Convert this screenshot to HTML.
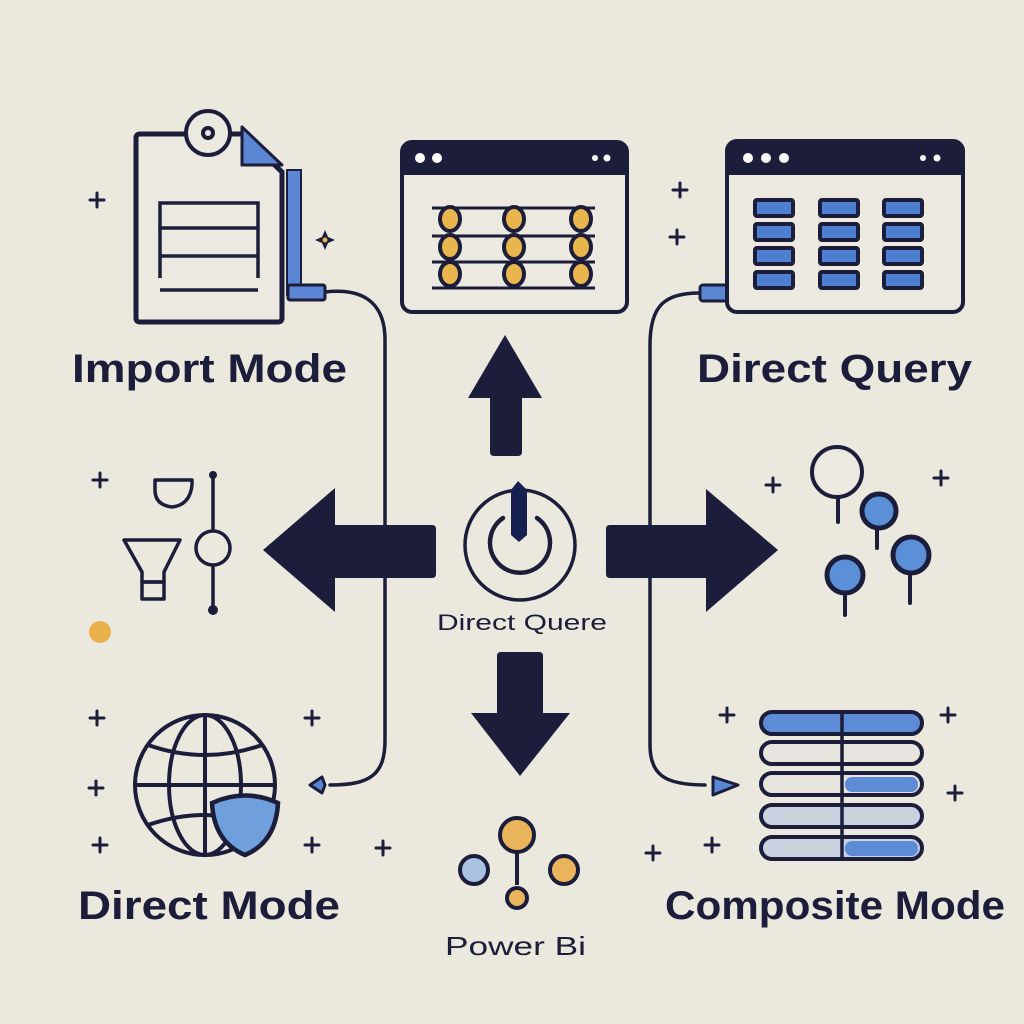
<!DOCTYPE html>
<html><head><style>
html,body{margin:0;padding:0;background:#ebe8de;}
svg{display:block}
text{font-family:"Liberation Sans",sans-serif;fill:#1c1d3a}
</style></head><body>
<svg width="1024" height="1024" viewBox="0 0 1024 1024" xmlns="http://www.w3.org/2000/svg">
<rect width="1024" height="1024" fill="#ebe8de"/>
<defs>
<g id="p"><path d="M-7 0H7M0 -7V7" stroke="#1c1d3a" stroke-width="3" stroke-linecap="round"/></g>
</defs>
<g fill="none" stroke="#1c1d3a" stroke-width="3.5" stroke-linecap="round">
<path d="M325 292 C360 288 385 300 385 340 V740 C385 775 370 785 330 785"/>
<path d="M700 293 C665 293 650 305 650 345 V745 C650 775 665 785 705 785"/>
</g>
<rect x="287" y="170" width="14" height="125" fill="#5b86d4" stroke="#1c1d3a" stroke-width="2"/>
<rect x="288" y="285" width="37" height="15" rx="2" fill="#5b86d4" stroke="#1c1d3a" stroke-width="3"/>
<path d="M140 134 H242 L282 172 V318 Q282 322 278 322 H140 Q136 322 136 318 V138 Q136 134 140 134Z" fill="#ece9e0" stroke="#1c1d3a" stroke-width="5"/>
<path d="M242 127 V165 H282 Z" fill="#5b86d4" stroke="#1c1d3a" stroke-width="3" stroke-linejoin="round"/>
<circle cx="208" cy="133" r="22" fill="#ece9e0" stroke="#1c1d3a" stroke-width="4"/>
<circle cx="208" cy="133" r="7" fill="#1c1d3a"/>
<circle cx="208" cy="133" r="3" fill="#ece9e0"/>
<g stroke="#1c1d3a" stroke-width="3.5"><rect x="160" y="203" width="98" height="25" fill="none"/><line x1="160" y1="256" x2="258" y2="256"/><line x1="160" y1="290" x2="258" y2="290"/><line x1="160" y1="228" x2="160" y2="278"/><line x1="258" y1="228" x2="258" y2="278"/></g>
<text x="72" y="382" font-size="40" font-weight="bold" textLength="275" lengthAdjust="spacingAndGlyphs">Import Mode</text>
<rect x="402" y="142" width="225" height="170" rx="10" fill="#ece9e0" stroke="#1c1d3a" stroke-width="4"/>
<path d="M402 175 V152 Q402 142 412 142 H617 Q627 142 627 152 V175Z" fill="#1c1d3a"/>
<circle cx="420" cy="158" r="5" fill="#fff"/><circle cx="437" cy="158" r="5" fill="#fff"/>
<circle cx="595" cy="158" r="3" fill="#fff"/><circle cx="607" cy="158" r="3.5" fill="#fff"/>
<g stroke="#1c1d3a" stroke-width="3"><line x1="432" y1="208" x2="595" y2="208"/><line x1="432" y1="236" x2="595" y2="236"/><line x1="432" y1="262" x2="595" y2="262"/><line x1="432" y1="288" x2="595" y2="288"/></g>
<g fill="#e9b54d" stroke="#1c1d3a" stroke-width="4">
<ellipse cx="450" cy="219" rx="10" ry="12"/><ellipse cx="514" cy="219" rx="10" ry="12"/><ellipse cx="581" cy="219" rx="10" ry="12"/>
<ellipse cx="450" cy="247" rx="10" ry="12"/><ellipse cx="514" cy="247" rx="10" ry="12"/><ellipse cx="581" cy="247" rx="10" ry="12"/>
<ellipse cx="450" cy="274" rx="10" ry="12"/><ellipse cx="514" cy="274" rx="10" ry="12"/><ellipse cx="581" cy="274" rx="10" ry="12"/>
</g>
<rect x="700" y="285" width="28" height="16" rx="3" fill="#5b86d4" stroke="#1c1d3a" stroke-width="3"/>
<rect x="727" y="141" width="236" height="171" rx="10" fill="#ece9e0" stroke="#1c1d3a" stroke-width="4"/>
<path d="M727 175 V151 Q727 141 737 141 H953 Q963 141 963 151 V175Z" fill="#1c1d3a"/>
<circle cx="748" cy="158" r="5" fill="#fff"/><circle cx="766" cy="158" r="5" fill="#fff"/><circle cx="784" cy="158" r="5" fill="#fff"/>
<circle cx="923" cy="158" r="3" fill="#fff"/><circle cx="937" cy="158" r="3.5" fill="#fff"/>
<g fill="#4f7fd0" stroke="#1c1d3a" stroke-width="4">
<rect x="755" y="200" width="38" height="16" rx="2"/><rect x="820" y="200" width="38" height="16" rx="2"/><rect x="884" y="200" width="38" height="16" rx="2"/>
<rect x="755" y="224" width="38" height="16" rx="2"/><rect x="820" y="224" width="38" height="16" rx="2"/><rect x="884" y="224" width="38" height="16" rx="2"/>
<rect x="755" y="248" width="38" height="16" rx="2"/><rect x="820" y="248" width="38" height="16" rx="2"/><rect x="884" y="248" width="38" height="16" rx="2"/>
<rect x="755" y="272" width="38" height="16" rx="2"/><rect x="820" y="272" width="38" height="16" rx="2"/><rect x="884" y="272" width="38" height="16" rx="2"/>
</g>
<text x="697" y="382" font-size="40" font-weight="bold" textLength="275" lengthAdjust="spacingAndGlyphs">Direct Query</text>
<g fill="#1c1d3a">
<path d="M505 335 L542 398 H522 V452 Q522 456 518 456 H494 Q490 456 490 452 V398 H468 Z"/>
<path d="M263 550 L335 488 V525 H432 Q436 525 436 529 V574 Q436 578 432 578 H335 V612 Z"/>
<path d="M778 550 L706 489 V525 H610 Q606 525 606 529 V574 Q606 578 610 578 H706 V612 Z"/>
<path d="M520 776 L570 713 H543 V656 Q543 652 539 652 H501 Q497 652 497 656 V713 H471 Z"/>
</g>
<circle cx="520" cy="545" r="55" fill="none" stroke="#1c1d3a" stroke-width="3.5"/>
<path d="M503 518 A30 30 0 1 0 537 518" fill="none" stroke="#1c1d3a" stroke-width="4.5" stroke-linecap="round"/>
<path d="M511 490 L518 481 L527 490 V535 L519 542 L511 535 Z" fill="#152050"/>
<text x="437" y="630" font-size="22" textLength="170" lengthAdjust="spacingAndGlyphs">Direct Quere</text>
<line x1="517" y1="850" x2="517" y2="885" stroke="#1c1d3a" stroke-width="4"/>
<circle cx="517" cy="835" r="17" fill="#e9b45c" stroke="#1c1d3a" stroke-width="4"/>
<circle cx="474" cy="870" r="14" fill="#a9c2e0" stroke="#1c1d3a" stroke-width="4"/>
<circle cx="564" cy="870" r="14" fill="#e9b45c" stroke="#1c1d3a" stroke-width="4"/>
<circle cx="517" cy="898" r="10" fill="#e9b45c" stroke="#1c1d3a" stroke-width="4"/>
<text x="445" y="955" font-size="26" textLength="141" lengthAdjust="spacingAndGlyphs">Power Bi</text>
<g fill="none" stroke="#1c1d3a" stroke-width="3.5" stroke-linejoin="round">
<path d="M155 480 H192 V485 Q190 505 172 507 Q155 505 155 490 Z"/>
<path d="M124 540 H180 L164 572 V582 H142 V572 Z"/>
<rect x="142" y="582" width="22" height="17"/>
<line x1="213" y1="476" x2="213" y2="530"/><line x1="213" y1="566" x2="213" y2="608"/>
<circle cx="213" cy="548" r="17"/>
</g>
<circle cx="213" cy="475" r="4" fill="#1c1d3a"/><circle cx="213" cy="610" r="5" fill="#1c1d3a"/>
<circle cx="100" cy="632" r="11" fill="#e9b24a"/>
<g fill="none" stroke="#1c1d3a" stroke-width="4">
<circle cx="205" cy="785" r="70"/>
<ellipse cx="205" cy="785" rx="36" ry="70"/>
<line x1="205" y1="715" x2="205" y2="855"/>
<line x1="135" y1="785" x2="275" y2="785"/>
<path d="M148 745 Q205 765 262 745"/><path d="M148 825 Q205 805 262 825"/>
</g>
<path d="M212 803 Q245 788 278 803 Q276 842 245 855 Q214 842 212 803Z" fill="#6f9fdc" stroke="#1c1d3a" stroke-width="4.5"/>
<path d="M310 785 L322 777 L325 785 L322 793 Z" fill="#5b86d4" stroke="#1c1d3a" stroke-width="3" stroke-linejoin="round"/>
<text x="78" y="919" font-size="40" font-weight="bold" textLength="262" lengthAdjust="spacingAndGlyphs">Direct Mode</text>
<g stroke="#1c1d3a" stroke-width="4" stroke-linecap="round">
<line x1="838" y1="495" x2="838" y2="522"/><line x1="877" y1="528" x2="877" y2="548"/><line x1="910" y1="573" x2="910" y2="603"/><line x1="845" y1="593" x2="845" y2="615"/>
</g>
<circle cx="837" cy="472" r="25" fill="#ece9e0" stroke="#1c1d3a" stroke-width="4"/>
<g fill="#5b8fd8" stroke="#1c1d3a" stroke-width="5">
<circle cx="879" cy="511" r="17"/><circle cx="911" cy="555" r="18"/><circle cx="845" cy="575" r="18"/>
</g>
<g stroke="#1c1d3a" stroke-width="4">
<rect x="761" y="712" width="161" height="22" rx="11" fill="#5d8bd6"/>
<rect x="761" y="742" width="161" height="22" rx="11" fill="#e6e4dc"/>
<rect x="761" y="773" width="161" height="22" rx="11" fill="#e6e4dc"/>
<rect x="761" y="805" width="161" height="22" rx="11" fill="#c9d2df"/>
<rect x="761" y="837" width="161" height="22" rx="11" fill="#c9d2df"/>
</g>
<g fill="#5d8bd6"><rect x="845" y="777" width="73" height="15" rx="7"/><rect x="845" y="841" width="73" height="15" rx="7"/></g>
<g stroke="#1c1d3a" stroke-width="3.5"><line x1="842" y1="712" x2="842" y2="859"/></g>
<path d="M713 777 L738 785 L713 795 Z" fill="#5b86d4" stroke="#1c1d3a" stroke-width="3" stroke-linejoin="round"/>
<text x="665" y="919" font-size="40" font-weight="bold" textLength="340" lengthAdjust="spacingAndGlyphs">Composite Mode</text>
<use href="#p" x="97" y="200"/><use href="#p" x="680" y="190"/><use href="#p" x="677" y="237"/>
<use href="#p" x="100" y="480"/><use href="#p" x="773" y="485"/><use href="#p" x="941" y="478"/>
<use href="#p" x="97" y="718"/><use href="#p" x="96" y="788"/><use href="#p" x="100" y="845"/>
<use href="#p" x="312" y="718"/><use href="#p" x="312" y="845"/><use href="#p" x="383" y="848"/>
<use href="#p" x="727" y="715"/><use href="#p" x="948" y="715"/><use href="#p" x="955" y="793"/>
<use href="#p" x="653" y="853"/><use href="#p" x="712" y="845"/>
<path d="M325 230 L328 237 L335 240 L328 243 L325 250 L322 243 L315 240 L322 237Z" fill="#1c1d3a"/>
<circle cx="325" cy="240" r="2.5" fill="#e9b24a"/>
</svg>
</body></html>
